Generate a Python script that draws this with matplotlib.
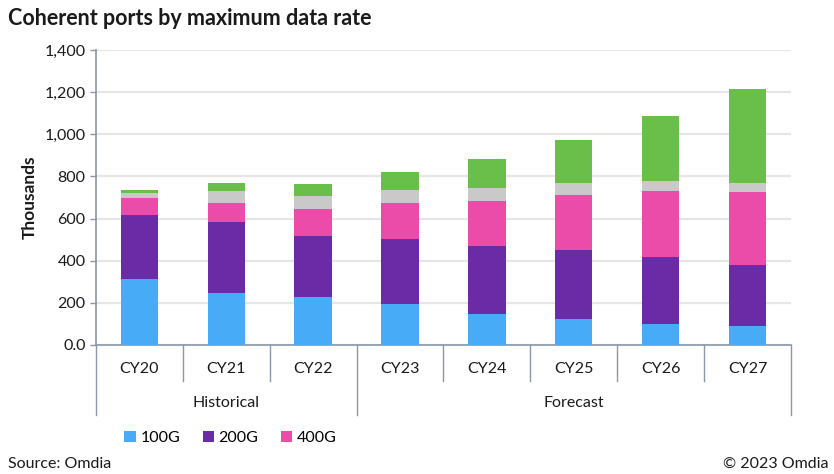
import matplotlib.pyplot as plt
import numpy as np
from matplotlib.patches import Patch

# data, in thousands of ports
years = ["CY20", "CY21", "CY22", "CY23", "CY24", "CY25", "CY26", "CY27"]
ports_100g = [313, 249, 226, 193, 147, 125, 101, 89]
ports_200g = [304, 336, 290, 310, 325, 324, 315, 289]
ports_400g = [79, 87, 128, 169, 213, 263, 315, 348]
ports_other = [26, 57, 65, 62, 59, 55, 46, 41]
ports_800g = [12, 38, 53, 87, 137, 205, 308, 447]
periods = ["Historical", "Forecast"]
period_sizes = [3, 5]
y_ticks = [0, 200, 400, 600, 800, 1000, 1200, 1400]
y_tick_labels = ["0.0", "200", "400", "600", "800", "1,000", "1,200", "1,400"]

BLUE = "#48abf7"
PURPLE = "#6b2aa6"
PINK = "#eb4ca9"
GREY = "#c9c9c9"
GREEN = "#6abf4b"
AXIS = "#8a97a8"
TEXT = "#1a1a1a"

plt.rcParams["font.family"] = ["Lato", "DejaVu Sans"]

fig = plt.figure(figsize=(8.34, 4.74), dpi=100)
ax = fig.add_axes([0.1151, 0.2722, 0.8333, 0.6223])

x = np.arange(len(years))
width = 0.43
series = [
    (ports_100g, BLUE),
    (ports_200g, PURPLE),
    (ports_400g, PINK),
    (ports_other, GREY),
    (ports_800g, GREEN),
]
bottom = np.zeros(len(years))
for values, color in series:
    ax.bar(x, values, width, bottom=bottom, color=color, zorder=3)
    bottom += np.array(values)

ax.set_xlim(-0.5, len(years) - 0.5)
ax.set_ylim(0, 1400)
ax.set_yticks(y_ticks)
ax.set_yticklabels(y_tick_labels, fontsize=11.5, color=TEXT)
ax.yaxis.grid(True, color="#e6e6e6", linewidth=1.6, zorder=0)
ax.tick_params(axis="y", length=4, color=AXIS, width=1)
ax.set_xticks([])
ax.set_ylabel("Thousands", fontsize=12.5, fontweight="bold", color=TEXT, labelpad=5)

for side in ["top", "right"]:
    ax.spines[side].set_visible(False)
for side in ["left", "bottom"]:
    ax.spines[side].set_color(AXIS)
    ax.spines[side].set_linewidth(1.2)

# category axis below the plot
trans = ax.get_xaxis_transform()
edges = [0] + list(np.cumsum(period_sizes))
for i in range(len(years) + 1):
    pos = i - 0.5
    low = -0.237 if i in edges else -0.122
    ax.plot([pos, pos], [0, low], transform=trans, color=AXIS,
            linewidth=1.0, clip_on=False)
for i, name in enumerate(years):
    ax.text(i, -0.08, name, transform=trans, ha="center", va="center",
            fontsize=11.5, color=TEXT)
for name, start, size in zip(periods, edges[:-1], period_sizes):
    ax.text(start + size / 2 - 0.5, -0.197, name, transform=trans,
            ha="center", va="center", fontsize=11.5, color=TEXT)

fig.text(0.01, 0.962, "Coherent ports by maximum data rate", fontsize=15.5,
         fontweight="bold", color=TEXT, va="center")

handles = [Patch(facecolor=BLUE), Patch(facecolor=PURPLE), Patch(facecolor=PINK)]
fig.legend(handles, ["100G", "200G", "400G"], loc="center left",
           bbox_to_anchor=(0.132, 0.076), ncol=3, frameon=False, fontsize=11.5,
           handlelength=0.7, handleheight=0.7, handletextpad=0.3,
           columnspacing=1.4)

fig.text(0.01, 0.021, "Source: Omdia", fontsize=11.5, color=TEXT, va="center")
fig.text(0.993, 0.021, "\u00a9 2023 Omdia", fontsize=11.5, color=TEXT,
         va="center", ha="right")

fig.savefig("out.png", dpi=100)
